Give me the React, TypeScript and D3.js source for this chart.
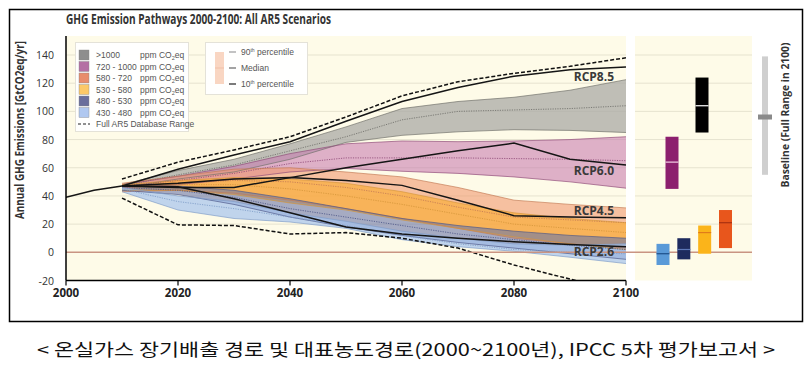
import * as d3 from "d3";

// years of the scenario bands (10th / median / 90th percentile)
const years = [2010, 2020, 2030, 2040, 2050, 2060, 2070, 2080, 2090, 2100];
const histYears = [2000, 2005, 2010];
const histValues = [39, 44, 47];

const categories = [">1000", "720 - 1000", "580 - 720", "530 - 580", "480 - 530", "430 - 480"];

const above1000P90 = [48, 58, 66, 77, 89, 102, 107, 110, 115, 122.5];
const above1000P50 = [47, 55, 62, 72, 82, 94, 100, 101, 102, 104];
const above1000P10 = [46, 52, 57, 66, 78, 83, 85.5, 87, 86.5, 85];

const c720P90 = [48, 54, 61, 70, 77, 79, 78.5, 79, 80, 82];
const c720P50 = [47, 51, 56, 63, 67, 67, 67, 66.5, 66, 65];
const c720P10 = [46, 48, 52, 57, 59.5, 57.5, 56, 53.5, 50, 45.5];

const c580P90 = [49, 54, 59, 60, 57, 53.5, 46, 37, 34, 31.5];
const c580P50 = [47, 49, 51, 50, 46, 40, 32, 25, 23, 21];
const c580P10 = [43, 44, 42, 37, 31, 24, 17, 10, 6, 3];

const c530P90 = [48, 51, 53, 52, 49, 43, 35, 28, 24, 21];
const c530P50 = [46, 48, 48, 45, 40, 34, 27, 20, 17, 14];
const c530P10 = [44, 44, 41, 35, 30, 23, 17, 11, 6, 2];

const c480P90 = [47, 47, 44, 38, 31, 24, 19, 15, 12, 10];
const c480P50 = [46, 44, 39, 31, 25, 19, 13, 9, 5, 2];
const c480P10 = [44, 41, 34, 25, 18, 12, 7, 3, -1, -5];

const c430P90 = [46, 40, 36, 28, 22, 15, 10, 6, 5, 6];
const c430P50 = [45, 36, 31, 25, 19, 12, 6, 2, 0, -1];
const c430P10 = [43, 30, 24, 21.5, 17, 9, 4, 0.7, -3.5, -8];

const rangeHigh = [52, 64, 72.6, 82, 96, 111, 121, 127, 132, 138];
const rangeLow = [38.5, 19.5, 19, 13, 14, 10, 3, -9, -19, -29];

const rcp85 = [47, 59, 69, 78.5, 93, 107, 117, 125, 129.5, 131.5];
const rcp60 = [47, 46, 46, 53, 60, 66, 72, 77.5, 66, 62];
const rcp45 = [47, 49, 52, 53, 51, 47.5, 37, 26, 25, 24.5];
const rcp26 = [47, 46.5, 38, 28, 18, 13, 10, 7.5, 5.5, 4];

// 2100 ranges, same order as categories
const bar10 = [85, 45, 3, -1, -5, -9];
const bar50 = [104, 64, 21, 14, 2, -1];
const bar90 = [124, 82, 30, 19, 10, 6];
const baselineRange = [55, 139];
const baselineMedian = 96;

const xTicks = [2000, 2020, 2040, 2060, 2080, 2100];
const yTicks = [-20, 0, 20, 40, 60, 80, 100, 120, 140];
const percentileLabels = ["90", "Median", "10"];

const bandFill: Record<string, string> = {
  ">1000": "#a9a9a5", "720 - 1000": "#c87fb0", "580 - 720": "#f09a70",
  "530 - 580": "#f9ae3a", "480 - 530": "#6b77a8", "430 - 480": "#a5c3ee",
};
const bandOpacity: Record<string, number> = {
  ">1000": 0.75, "720 - 1000": 0.6, "580 - 720": 0.6, "530 - 580": 0.7, "480 - 530": 0.6, "430 - 480": 0.7,
};
const bandEdge: Record<string, string> = {
  ">1000": "#6f6f6a", "720 - 1000": "#8f4a78", "580 - 720": "#c47a55",
  "530 - 580": "#d5953a", "480 - 530": "#4d5788", "430 - 480": "#7e9cc8",
};
const swatch: Record<string, string> = {
  ">1000": "#8e8e8e", "720 - 1000": "#b470a4", "580 - 720": "#e88c6c",
  "530 - 580": "#fcc868", "480 - 530": "#6a6e9c", "430 - 480": "#b0c8f0",
};
const barColor: Record<string, string> = {
  ">1000": "#000000", "720 - 1000": "#8c1f6e", "580 - 720": "#e8561c",
  "530 - 580": "#fbb41a", "480 - 530": "#1e2b5e", "430 - 480": "#5a9ad8",
};
const barMedian: Record<string, string> = {
  ">1000": "#ffffff", "720 - 1000": "#f2d0e6", "580 - 720": "#a83010",
  "530 - 580": "#e07b1a", "480 - 530": "#5e78b8", "430 - 480": "#1d4f8a",
};

const bands = [
  { cat: ">1000", hi: above1000P90, med: above1000P50, lo: above1000P10 },
  { cat: "720 - 1000", hi: c720P90, med: c720P50, lo: c720P10 },
  { cat: "580 - 720", hi: c580P90, med: c580P50, lo: c580P10 },
  { cat: "530 - 580", hi: c530P90, med: c530P50, lo: c530P10 },
  { cat: "480 - 530", hi: c480P90, med: c480P50, lo: c480P10 },
  { cat: "430 - 480", hi: c430P90, med: c430P50, lo: c430P10 },
];

const rcps = [
  { name: "RCP8.5", v: rcp85 },
  { name: "RCP6.0", v: rcp60 },
  { name: "RCP4.5", v: rcp45 },
  { name: "RCP2.6", v: rcp26 },
];
// label nudges relative to the 2100 value (px)
const labelShift: Record<string, number> = { "RCP8.5": 14, "RCP6.0": 10, "RCP4.5": -3, "RCP2.6": 9 };

const FONT = "'Open Sans', 'Liberation Sans', sans-serif";

export default function App() {
  const plotTop = 36;
  const x = d3.scaleLinear().domain([2000, 2100]).range([66, 626]);
  const y = d3.scaleLinear().domain([-20, 140]).range([280.5, 55]);
  const panel = { x0: 635, x1: 752 };

  const line = d3.line<number>().x((_, i) => x(years[i])).y((d) => y(d));
  const histLine = d3.line<number>().x((_, i) => x(histYears[i])).y((d) => y(d));
  const area = (lo: number[]) =>
    d3.area<number>().x((_, i) => x(years[i])).y0((_, i) => y(lo[i])).y1((d) => y(d));

  const lowerRow = d3.scalePoint<string>().domain(["430 - 480", "480 - 530", "530 - 580", "580 - 720"]).range([663, 725.5]);
  const upperRow = d3.scalePoint<string>().domain(["720 - 1000", ">1000"]).range([672, 702]);
  const barX = (c: string) => (upperRow.domain().includes(c) ? upperRow(c)! : lowerRow(c)!);
  const barW = 13;

  const legendRow = d3.scaleLinear().domain([0, 6]).range([55, 124]);
  const pctRow = d3.scaleLinear().domain([0, 2]).range([52, 84]);

  return (
    <svg width={811} height={365} style={{ position: "absolute", left: 0, top: 0, background: "#fff" }}>
      <defs>
        <clipPath id="plotClip">
          <rect x={x(2000)} y={plotTop} width={x(2100) - x(2000)} height={y(-20) - plotTop} />
        </clipPath>
      </defs>
      <rect x={9.5} y={9.5} width={793} height={312} fill="#fff" stroke="#000" strokeWidth={1.5} />

      <text x={66} y={23.5} fontFamily={FONT} fontWeight={700} fontSize={14} fill="#333" textLength={265} lengthAdjust="spacingAndGlyphs">
        GHG Emission Pathways 2000-2100: All AR5 Scenarios
      </text>

      {/* backgrounds */}
      <rect x={x(2000)} y={plotTop} width={x(2100) - x(2000)} height={y(-20) - plotTop} fill="#fefbe8" />
      <rect x={panel.x0} y={plotTop} width={panel.x1 - panel.x0} height={y(-20) - plotTop} fill="#fefbe8" />
      {yTicks.filter((t) => t !== 0 && t !== -20).map((t) => (
        <g key={t}>
          <line x1={x(2000)} x2={x(2100)} y1={y(t)} y2={y(t)} stroke="#e6e3cf" strokeWidth={1} />
          <line x1={panel.x0} x2={panel.x1} y1={y(t)} y2={y(t)} stroke="#e6e3cf" strokeWidth={1} />
        </g>
      ))}

      <g clipPath="url(#plotClip)">
        {bands.map((b) => (
          <path key={b.cat + "a"} d={area(b.lo)(b.hi)!} fill={bandFill[b.cat]} fillOpacity={bandOpacity[b.cat]} />
        ))}
        {bands.map((b) => (
          <g key={b.cat + "l"} fill="none" stroke={bandEdge[b.cat]} strokeOpacity={0.85}>
            <path d={line(b.hi)!} strokeWidth={0.8} />
            <path d={line(b.lo)!} strokeWidth={0.8} />
            <path d={line(b.med)!} strokeWidth={1} strokeDasharray="1.2,1.2" />
          </g>
        ))}
        <path d={line(rangeHigh)!} fill="none" stroke="#111" strokeWidth={1.5} strokeDasharray="4,2" />
        <path d={line(rangeLow)!} fill="none" stroke="#111" strokeWidth={1.5} strokeDasharray="4,2" />
        {rcps.map((r) => (
          <path key={r.name} d={line(r.v)!} fill="none" stroke="#151515" strokeWidth={1.5} />
        ))}
        <path d={histLine(histValues)!} fill="none" stroke="#151515" strokeWidth={1.5} />
      </g>

      {/* zero line */}
      <line x1={x(2000)} x2={panel.x1} y1={y(0)} y2={y(0)} stroke="#c99482" strokeWidth={1.6} />

      {rcps.map((r) => (
        <text key={r.name} x={614} y={y(r.v[r.v.length - 1]) + labelShift[r.name]}
          fontFamily={FONT} fontWeight={700} fontSize={12} fill="#3a3a3a" textAnchor="end">
          {r.name}
        </text>
      ))}

      {/* axes */}
      <line x1={x(2000)} x2={x(2000)} y1={plotTop} y2={y(-20)} stroke="#000" strokeWidth={1.5} />
      <line x1={x(2000)} x2={x(2100)} y1={y(-20)} y2={y(-20)} stroke="#000" strokeWidth={1.5} />
      {xTicks.map((t) => (
        <g key={t}>
          <line x1={x(t)} x2={x(t)} y1={y(-20)} y2={y(-20) + 5} stroke="#000" strokeWidth={1.2} />
          <text x={x(t)} y={297} fontFamily={FONT} fontWeight={700} fontSize={11.5} fill="#222" textAnchor="middle">{t}</text>
        </g>
      ))}
      {yTicks.map((t) => (
        <text key={t} x={54} y={y(t) + 4} fontFamily={FONT} fontSize={10.5} fill="#333" textAnchor="end">{t}</text>
      ))}
      <text transform="translate(24,130) rotate(-90)" fontFamily={FONT} fontWeight={700} fontSize={11.5} fill="#333" textAnchor="middle" textLength={178} lengthAdjust="spacingAndGlyphs">
        Annual GHG Emissions [GtCO2eq/yr]
      </text>

      {/* 2100 bars */}
      {categories.map((c, i) => (
        <g key={c}>
          <rect x={barX(c) - barW / 2} y={y(bar90[i])} width={barW} height={y(bar10[i]) - y(bar90[i])} fill={barColor[c]} />
          <line x1={barX(c) - barW / 2} x2={barX(c) + barW / 2} y1={y(bar50[i])} y2={y(bar50[i])} stroke={barMedian[c]} strokeWidth={1.2} />
        </g>
      ))}
      <rect x={762} y={y(baselineRange[1])} width={6} height={y(baselineRange[0]) - y(baselineRange[1])} fill="#cfcfcf" />
      <rect x={758} y={y(baselineMedian) - 2.5} width={14} height={5} fill="#8a8a8a" />
      <text transform="translate(789,115) rotate(-90)" fontFamily={FONT} fontWeight={700} fontSize={11} fill="#333" textAnchor="middle" textLength={145} lengthAdjust="spacingAndGlyphs">
        Baseline (Full Range in 2100)
      </text>

      {/* legend: categories */}
      <rect x={75.5} y={42.5} width={113} height={89} fill="#fff" fillOpacity={0.95} stroke="#e4e2d8" />
      {categories.map((c, i) => (
        <g key={c} fontFamily="'Liberation Sans', sans-serif" fontSize={8.5} fill="#555">
          <rect x={79} y={legendRow(i) - 5} width={10} height={10} fill={swatch[c]} stroke="#888" strokeWidth={0.4} />
          <text x={96} y={legendRow(i) + 3}>{c}</text>
          <text x={140} y={legendRow(i) + 3}>ppm CO<tspan fontSize={5.5} dy={2}>2</tspan><tspan dy={-2}>eq</tspan></text>
        </g>
      ))}
      <line x1={78} x2={90} y1={legendRow(6)} y2={legendRow(6)} stroke="#222" strokeWidth={1.2} strokeDasharray="3,2" />
      <text x={96} y={legendRow(6) + 3} fontFamily="'Liberation Sans', sans-serif" fontSize={8.5} fill="#555">Full AR5 Database Range</text>

      {/* legend: percentiles */}
      <rect x={205.5} y={42.5} width={102} height={52} fill="#fff" fillOpacity={0.95} stroke="#e4e2d8" />
      <rect x={215} y={pctRow(0)} width={9} height={pctRow(2) - pctRow(0)} fill="#f9d6c2" />
      <line x1={215} x2={224} y1={pctRow(1)} y2={pctRow(1)} stroke="#f0bfa6" strokeWidth={1} />
      {percentileLabels.map((p, i) => (
        <g key={p} fontFamily="'Liberation Sans', sans-serif" fontSize={8.5} fill="#555">
          <line x1={229} x2={236} y1={pctRow(i)} y2={pctRow(i)} stroke={["#9a9a9a", "#666", "#222"][i]} strokeWidth={1.2} />
          {p === "Median" ? (
            <text x={241} y={pctRow(i) + 3}>Median</text>
          ) : (
            <text x={241} y={pctRow(i) + 3}>{p}<tspan fontSize={5} dy={-3}>th</tspan><tspan dy={3}> percentile</tspan></text>
          )}
        </g>
      ))}

      <text x={406} y={356} fontFamily="'Noto Sans CJK KR', sans-serif" fontSize={17} fill="#111" textAnchor="middle" textLength={738} lengthAdjust="spacingAndGlyphs">
        {"< 온실가스 장기배출 경로 및 대표농도경로(2000~2100년), IPCC 5차 평가보고서 >"}
      </text>
    </svg>
  );
}
